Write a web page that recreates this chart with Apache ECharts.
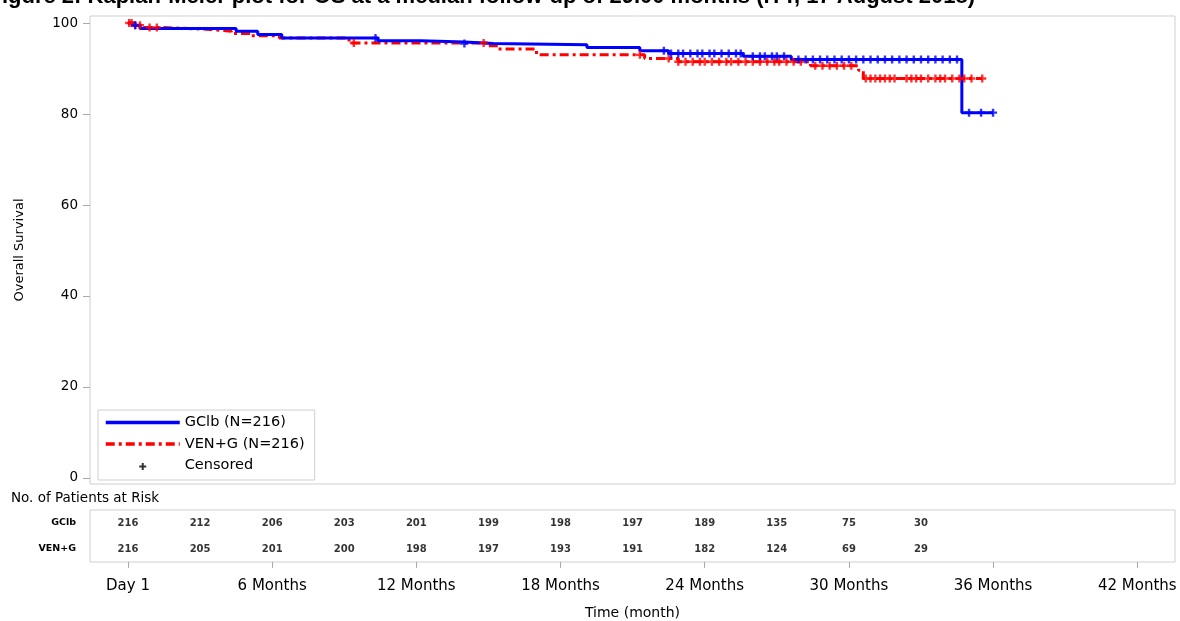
<!DOCTYPE html>
<html>
<head>
<meta charset="utf-8">
<script src="https://cdn.jsdelivr.net/npm/echarts@6/dist/echarts.min.js"></script>
<style>
html,body{margin:0;padding:0;background:#fff;}
#chart{width:1180px;height:621px;}
</style>
</head>
<body>
<div id="chart"></div>
<script>
// ---- data ----
var titleText = 'Figure 2: Kaplan-Meier plot for OS at a median follow-up of 29.00 months (ITT, 17 August 2018)';
var gclbName = 'GClb (N=216)';
var venName = 'VEN+G (N=216)';
// step points: [month, survival % after event]
var gclbCurve = [[0,100],[0.2,99.5],[0.5,98.8],[4.5,98.2],[5.4,97.5],[6.4,96.7],[10.4,96.1],[12.2,95.8],[14.0,95.5],[15.2,95.2],[19.1,94.6],[21.3,93.9],[22.5,93.3],[25.6,92.7],[27.6,92.0],[34.7,80.3],[36.0,80.3]];
var venCurve = [[0,100],[0.3,99.5],[0.6,99.0],[1.5,98.6],[3.4,98.2],[4.3,97.7],[5.1,97.2],[6.3,96.7],[9.2,95.6],[15.0,95.0],[15.4,94.3],[17.0,93.0],[21.5,92.2],[22.9,91.5],[28.4,90.6],[30.4,89.6],[30.6,87.8],[35.55,87.8]];
// censoring times (months)
var gclbCensor = [0.3,10.3,14.0,22.3,22.6,22.9,23.1,23.4,23.7,23.9,24.2,24.4,24.7,25.0,25.3,25.5,26.0,26.3,26.5,26.8,27.0,27.3,27.9,28.2,28.5,28.8,29.1,29.4,29.7,30.0,30.3,30.6,30.9,31.2,31.5,31.8,32.1,32.4,32.7,33.0,33.3,33.6,33.9,34.2,34.5,35.0,35.5,36.0];
var venCensor = [0.05,0.15,0.3,0.5,0.9,1.2,9.4,14.8,21.3,22.5,22.9,23.2,23.5,23.8,24.0,24.3,24.6,24.9,25.1,25.4,25.7,26.0,26.3,26.6,26.9,27.1,27.4,27.7,28.0,28.6,28.9,29.2,29.5,29.8,30.1,30.7,30.9,31.1,31.3,31.5,31.7,31.9,32.4,32.6,32.8,33.0,33.3,33.6,33.8,34.0,34.3,34.6,34.8,35.1,35.55];
// patients at risk
var riskMonths = [0,3,6,9,12,15,18,21,24,27,30,33];
var gclbRisk = [216,212,206,203,201,199,198,197,189,135,75,30];
var venRisk = [216,205,201,200,198,197,193,191,182,124,69,29];
var riskRows = ['GClb','VEN+G'];
var xTicks = [0,6,12,18,24,30,36,42];
var xTickLabels = ['Day 1','6 Months','12 Months','18 Months','24 Months','30 Months','36 Months','42 Months'];
var yTicks = [0,20,40,60,80,100];

// ---- helpers ----
function survAt(curve, t){
  var s = curve[0][1];
  for (var i=0;i<curve.length;i++){ if (curve[i][0] <= t) s = curve[i][1]; }
  return s;
}
var plusPath = 'path://M3.5,0h3v3.5h3.5v3h-3.5v3.5h-3v-3.5h-3.5v-3h3.5z';
var legendPlus = 'path://M0,0M74,0M74,14M0,14M36,4.5h2v2.5h2.5v2h-2.5v2.5h-2v-2.5h-2.5v-2h2.5z';
var FONT = 'DejaVu Sans';
var xMin = -1.58, xMax = 43.57;
var hideSym = {color:'rgba(0,0,0,0)', borderWidth:0, opacity:0};

var chart = echarts.init(document.getElementById('chart'), null, {renderer:'canvas'});
var option = {
  animation: false,
  backgroundColor: '#fff',
  textStyle: {fontFamily: FONT, color:'#000'},
  title: [
    {text: titleText, right: 200, top: -19, textStyle:{fontFamily:'Liberation Sans', fontWeight:'bold', fontSize:22, color:'#000'}},
    {text: 'No. of Patients at Risk', left: 6, top: 486, textStyle:{fontFamily:FONT, fontWeight:'normal', fontSize:13.5, color:'#000'}}
  ],
  legend: {
    left: 98, top: 410, orient: 'vertical',
    itemWidth: 74, itemHeight: 14, itemGap: 6.5,
    padding: [5, 10, 7, 6],
    borderColor: '#cfcfcf', borderWidth: 1,
    textStyle: {fontFamily: FONT, fontSize: 14.5, color:'#000'},
    selectedMode: false,
    data: [
      {name: gclbName, itemStyle: hideSym, lineStyle:{width:3.5, color:'#0000ff', type:'solid'}},
      {name: venName, itemStyle: hideSym, lineStyle:{width:3.5, color:'#ff0000', type:[9,4,3,4]}},
      {name: 'Censored', icon: legendPlus, itemStyle:{color:'#000'}}
    ]
  },
  grid: [
    {left: 90, top: 16, width: 1085, height: 468, show: true, borderColor:'#cfcfcf', borderWidth:1, backgroundColor:'transparent'},
    {left: 90, top: 510, width: 1085, height: 52, show: true, borderColor:'#cfcfcf', borderWidth:1, backgroundColor:'transparent'}
  ],
  xAxis: [
    {gridIndex:0, type:'value', min:xMin, max:xMax, axisLine:{show:false}, axisTick:{show:false}, axisLabel:{show:false}, splitLine:{show:false}},
    {gridIndex:1, type:'value', min:xMin, max:xMax, position:'bottom',
     axisLine:{show:false, onZero:false},
     axisTick:{show:true, length:6, customValues: xTicks, lineStyle:{color:'#aaa'}},
     axisLabel:{show:true, customValues: xTicks, margin: 17, fontFamily:FONT, fontSize:15, color:'#000',
       formatter:function(v){ return xTickLabels[xTicks.indexOf(v)]; }},
     splitLine:{show:false},
     name:'Time (month)', nameLocation:'middle', nameGap:44,
     nameTextStyle:{fontFamily:FONT, fontSize:14, color:'#000'}}
  ],
  yAxis: [
    {gridIndex:0, type:'value', min:-1.32, max:101.54, position:'left',
     axisLine:{show:false, onZero:false},
     axisTick:{show:true, length:7, customValues: yTicks, lineStyle:{color:'#aaa'}},
     axisLabel:{show:true, customValues: yTicks, margin: 12, fontFamily:FONT, fontSize:13.5, color:'#000'},
     splitLine:{show:false},
     name:'Overall Survival', nameLocation:'middle', nameGap:64, nameRotate:90,
     nameTextStyle:{fontFamily:FONT, fontSize:13, color:'#000'}},
    {gridIndex:1, type:'category', data: riskRows, inverse:true,
     axisLine:{show:false, onZero:false}, axisTick:{show:false},
     axisLabel:{margin:14, fontFamily:FONT, fontWeight:'bold', fontSize:9.5, color:'#000'},
     splitLine:{show:false}}
  ],
  series: [
    {name: venName, type:'line', xAxisIndex:0, yAxisIndex:0, step:'end', symbol:'none',
     data: venCurve, color:'#ff0000',
     lineStyle:{color:'#ff0000', width:3, type:[9,4,3,4]}, z:2},
    {name: gclbName, type:'line', xAxisIndex:0, yAxisIndex:0, step:'end', symbol:'none',
     data: gclbCurve, color:'#0000ff',
     lineStyle:{color:'#0000ff', width:3, type:'solid'}, z:3},
    {name: 'VEN+G censored', type:'scatter', xAxisIndex:0, yAxisIndex:0, symbol: plusPath, symbolSize:8,
     data: venCensor.map(function(t){return [t, survAt(venCurve, t)];}),
     itemStyle:{color:'#ff0000'}, z:4},
    {name: 'GClb censored', type:'scatter', xAxisIndex:0, yAxisIndex:0, symbol: plusPath, symbolSize:8,
     data: gclbCensor.map(function(t){return [t, survAt(gclbCurve, t)];}),
     itemStyle:{color:'#0000ff'}, z:5},
    {name: 'Censored', type:'scatter', xAxisIndex:0, yAxisIndex:0, symbol: plusPath, data: [], itemStyle:{color:'#000'}},
    {name: 'GClb at risk', type:'scatter', xAxisIndex:1, yAxisIndex:1, symbolSize:1,
     itemStyle:{color:'transparent'},
     data: riskMonths.map(function(m,i){return [m, riskRows[0], gclbRisk[i]];}),
     label:{show:true, position:'inside', formatter:function(p){return p.value[2];}, fontFamily:FONT, fontWeight:'bold', fontSize:10, color:'#000'}},
    {name: 'VEN+G at risk', type:'scatter', xAxisIndex:1, yAxisIndex:1, symbolSize:1,
     itemStyle:{color:'transparent'},
     data: riskMonths.map(function(m,i){return [m, riskRows[1], venRisk[i]];}),
     label:{show:true, position:'inside', formatter:function(p){return p.value[2];}, fontFamily:FONT, fontWeight:'bold', fontSize:10, color:'#000'}}
  ]
};
chart.setOption(option);
</script>
</body>
</html>
